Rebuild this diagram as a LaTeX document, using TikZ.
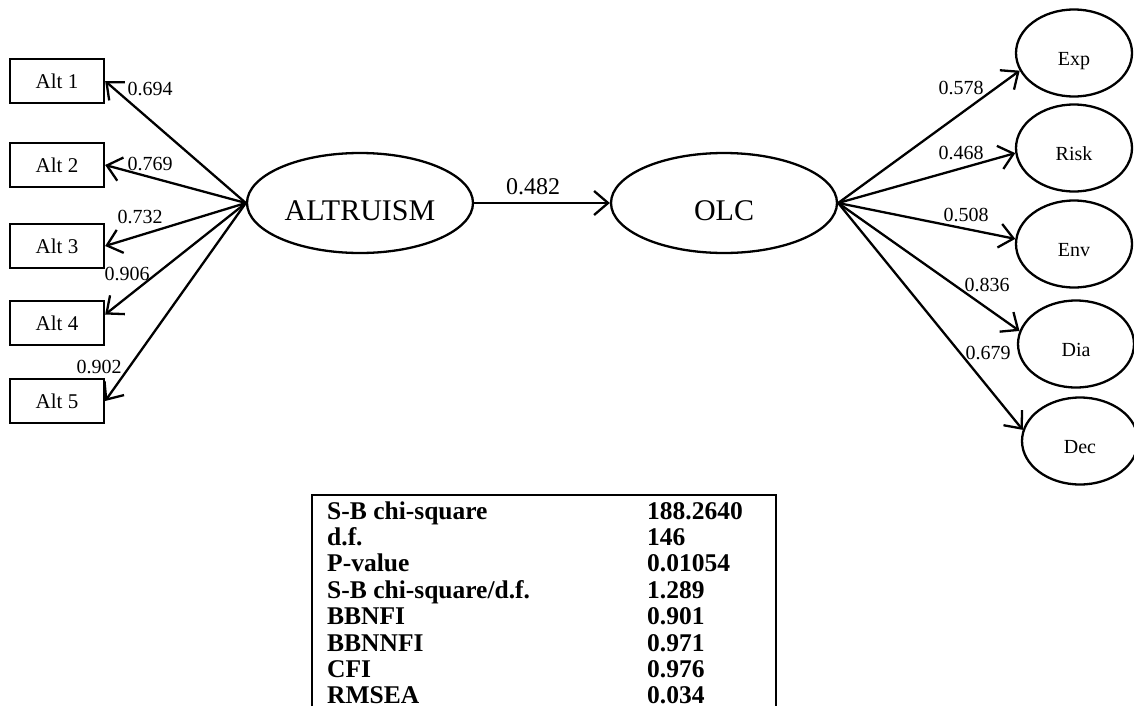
\documentclass[tikz,border=0pt]{standalone}
\usepackage{fontspec}
\setmainfont{Liberation Serif}
\usetikzlibrary{shapes.geometric,arrows.meta}
\begin{document}
\begin{tikzpicture}[x=1pt,y=-1pt,
 lw/.style={line width=2.3pt},
 altbox/.style={draw,lw,minimum width=94pt,minimum height=44pt,inner sep=0pt,font=\fontsize{21}{21}\selectfont},
 bigell/.style={draw,lw,ellipse,minimum width=226pt,minimum height=100pt,inner sep=0pt,text height=34pt,text depth=0pt,font=\fontsize{30}{30}\selectfont},
 smell/.style={draw,lw,ellipse,minimum width=116pt,minimum height=87pt,inner sep=0pt,text height=24pt,text depth=0pt,font=\fontsize{20}{20}\selectfont},
 conn/.style={lw,-{Straight Barb[length=14pt,width=24pt,line width=2.3pt]}},
 lab/.style={inner sep=0pt,font=\fontsize{20}{20}\selectfont},
 tab/.style={inner sep=0pt,anchor=base west,font=\fontsize{25.5}{25.5}\selectfont\bfseries}
]
\useasboundingbox (0,0) rectangle (1134,715);

% indicator boxes
\node[altbox] (a1) at (57,81) {Alt 1};
\node[altbox] (a2) at (57,165) {Alt 2};
\node[altbox] (a3) at (57,246) {Alt 3};
\node[altbox] (a4) at (57,323) {Alt 4};
\node[altbox] (a5) at (57,401) {Alt 5};

% latent variables
\node[bigell] (alt) at (360,203) {ALTRUISM};
\node[bigell] (olc) at (724,203) {OLC};

% right indicators
\node[smell] (exp) at (1074,53) {Exp};
\node[smell] (risk) at (1074,148) {Risk};
\node[smell] (env) at (1074,244) {Env};
\node[smell] (dia) at (1076,344) {Dia};
\node[smell] (dec) at (1080,441) {Dec};

% connectors
\draw[conn] (alt.west) -- (a1.east);
\draw[conn] (alt.west) -- (a2.east);
\draw[conn] (alt.west) -- (a3.east);
\draw[conn] (alt.west) -- (a4.10);
\draw[conn] (alt.west) -- (a5.east);
\draw[conn] (alt.east) -- (olc.west);
\draw[conn] (olc.east) -- (exp.198);
\draw[conn] (olc.east) -- (risk.185);
\draw[conn] (olc.east) -- (env.175);
\draw[conn] (olc.east) -- (dia.167);
\draw[conn] (olc.east) -- (dec.169);

% loadings
\node[lab] (l1) at (150,89) {0.694};
\node[lab] (l2) at (150,164) {0.769};
\node[lab] (l3) at (140,217) {0.732};
\node[lab] (l4) at (127,274) {0.906};
\node[lab] (l5) at (99,367) {0.902};
\node[inner sep=0pt,font=\fontsize{24}{24}\selectfont] (lp) at (533,187) {0.482};
\node[lab] (r1) at (961,88) {0.578};
\node[lab] (r2) at (961,153) {0.468};
\node[lab] (r3) at (966,215) {0.508};
\node[lab] (r4) at (987,285) {0.836};
\node[lab] (r5) at (988,353) {0.679};

% fit table
\coordinate (tl) at (312,495);
\coordinate (tr) at (776,495);
\coordinate (bl) at (312,706);
\coordinate (br) at (776,706);
\draw[lw] (bl) -- (tl) -- (tr) -- (br);
\node[tab] (t1) at (327,519) {S-B chi-square};
\node[tab] (t2) at (327,545.4) {d.f.};
\node[tab] (t3) at (327,571.8) {P-value};
\node[tab] (t4) at (327,598.2) {S-B chi-square/d.f.};
\node[tab] (t5) at (327,624.6) {BBNFI};
\node[tab] (t6) at (327,651) {BBNNFI};
\node[tab] (t7) at (327,677.4) {CFI};
\node[tab] (t8) at (327,703.8) {RMSEA};
\node[tab] (v1) at (647,519) {188.2640};
\node[tab] (v2) at (647,545.4) {146};
\node[tab] (v3) at (647,571.8) {0.01054};
\node[tab] (v4) at (647,598.2) {1.289};
\node[tab] (v5) at (647,624.6) {0.901};
\node[tab] (v6) at (647,651) {0.971};
\node[tab] (v7) at (647,677.4) {0.976};
\node[tab] (v8) at (647,703.8) {0.034};
\end{tikzpicture}
\end{document}
